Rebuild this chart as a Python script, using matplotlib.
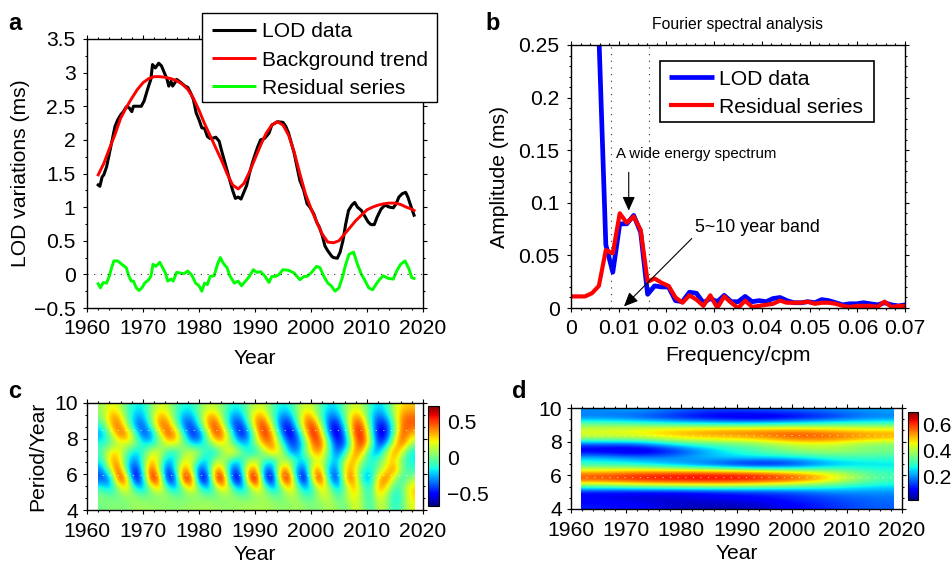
import numpy as np
import matplotlib
matplotlib.use('Agg')
import matplotlib.pyplot as plt
from matplotlib.lines import Line2D
from matplotlib.patches import Rectangle
from matplotlib.ticker import MultipleLocator

plt.rcParams['font.family'] = ['Liberation Sans', 'DejaVu Sans']
plt.rcParams['axes.unicode_minus'] = True

W, H = 952, 562

# panel a
lod_year = [1962, 1962.3, 1962.7, 1963, 1963.5, 1964, 1964.5, 1965, 1965.5, 1966, 1966.5, 1967, 1967.5, 1968, 1968.3, 1969, 1969.7, 1970.2, 1970.7, 1971, 1971.4, 1971.7, 1972.2, 1972.8, 1973.3, 1973.8, 1974.3, 1974.6, 1975, 1975.3, 1975.7, 1976, 1976.8, 1977.5, 1978, 1978.5, 1979, 1979.5, 1980, 1980.5, 1981, 1981.5, 1982, 1982.7, 1983, 1983.6, 1984, 1984.5, 1985, 1985.5, 1986, 1986.5, 1987, 1987.5, 1988, 1988.5, 1989, 1989.5, 1990, 1990.5, 1991, 1991.7, 1992.5, 1993, 1994, 1995, 1995.5, 1996, 1996.5, 1997, 1997.5, 1998, 1998.7, 1999.3, 1999.8, 2000.5, 2001, 2001.5, 2002, 2002.5, 2003, 2003.7, 2004, 2004.7, 2005.2, 2005.7, 2006.2, 2006.7, 2007.3, 2007.8, 2008.3, 2009, 2009.5, 2010.2, 2010.7, 2011.3, 2011.8, 2012.5, 2013.2, 2014, 2014.7, 2015.2, 2015.7, 2016.3, 2016.9, 2017.3, 2017.9, 2018.4]
lod_val = [1.33, 1.31, 1.45, 1.48, 1.6, 1.8, 2.0, 2.2, 2.3, 2.37, 2.42, 2.49, 2.48, 2.42, 2.5, 2.5, 2.5, 2.58, 2.72, 2.8, 2.9, 3.12, 3.07, 3.14, 3.1, 3.0, 2.9, 2.8, 2.87, 2.8, 2.85, 2.9, 2.85, 2.8, 2.78, 2.7, 2.6, 2.4, 2.3, 2.18, 2.17, 2.05, 2.02, 2.03, 2.04, 1.98, 1.85, 1.7, 1.55, 1.4, 1.25, 1.13, 1.15, 1.12, 1.22, 1.32, 1.5, 1.65, 1.78, 1.9, 2.0, 2.02, 2.1, 2.22, 2.27, 2.26, 2.2, 2.1, 1.95, 1.8, 1.6, 1.4, 1.25, 1.05, 1.0, 0.9, 0.78, 0.7, 0.58, 0.42, 0.35, 0.27, 0.25, 0.24, 0.33, 0.5, 0.75, 0.95, 1.03, 1.07, 1.0, 0.95, 0.88, 0.78, 0.74, 0.74, 0.85, 0.97, 1.03, 1.0, 0.99, 1.05, 1.15, 1.2, 1.22, 1.15, 1.0, 0.88]
trend_year = [1962, 1963, 1964, 1965, 1966, 1967, 1968, 1969, 1970, 1971, 1972, 1973, 1974, 1975, 1976, 1977, 1978, 1979, 1980, 1981, 1982, 1983, 1984, 1985, 1986, 1987, 1988, 1989, 1990, 1991, 1992, 1993, 1994, 1995, 1996, 1997, 1998, 1999, 2000, 2001, 2002, 2003, 2004, 2005, 2006, 2007, 2008, 2009, 2010, 2011, 2012, 2013, 2014, 2015, 2016, 2017, 2018, 2018.4]
trend_val = [1.48, 1.65, 1.87, 2.08, 2.32, 2.48, 2.62, 2.75, 2.85, 2.91, 2.94, 2.94, 2.93, 2.91, 2.88, 2.83, 2.75, 2.62, 2.44, 2.24, 2.06, 1.88, 1.7, 1.5, 1.33, 1.27, 1.35, 1.52, 1.72, 1.92, 2.1, 2.22, 2.27, 2.22, 2.07, 1.82, 1.5, 1.2, 0.98, 0.78, 0.6, 0.48, 0.47, 0.5, 0.6, 0.7, 0.8, 0.88, 0.96, 1.0, 1.03, 1.05, 1.06, 1.06, 1.04, 1.0, 0.97, 0.95]
resid_year = [1962, 1962.4, 1962.9, 1963.5, 1964, 1964.4, 1964.8, 1965.5, 1966.2, 1967, 1967.5, 1967.9, 1968.3, 1968.8, 1969.3, 1969.8, 1970.3, 1971, 1971.4, 1971.8, 1972.3, 1973, 1973.5, 1974, 1974.4, 1975, 1975.4, 1976, 1976.7, 1977.3, 1978, 1978.7, 1979.4, 1980, 1980.5, 1981, 1981.5, 1982, 1982.7, 1983.3, 1983.8, 1984.3, 1985, 1985.5, 1986.3, 1987, 1987.6, 1988.3, 1989, 1989.7, 1990.3, 1991, 1991.8, 1992.5, 1993, 1993.7, 1994.3, 1995, 1996, 1997, 1998, 1998.8, 1999.3, 2000, 2001, 2001.6, 2002.3, 2003, 2003.6, 2004.3, 2005, 2005.7, 2006.2, 2006.8, 2007.6, 2008.3, 2009, 2009.7, 2010.3, 2011, 2011.6, 2012.2, 2012.9, 2013.8, 2014.7, 2015.3, 2016, 2016.8, 2017.5, 2018, 2018.4]
resid_val = [-0.14, -0.2, -0.12, -0.13, -0.02, 0.1, 0.2, 0.2, 0.15, 0.1, -0.03, -0.1, -0.1, -0.2, -0.24, -0.2, -0.13, -0.08, -0.03, 0.15, 0.12, 0.18, 0.1, 0.02, -0.1, -0.07, -0.1, 0.03, 0.02, 0.01, 0.05, -0.01, -0.13, -0.17, -0.25, -0.13, -0.15, -0.03, -0.02, 0.15, 0.25, 0.17, 0.1, -0.02, -0.13, -0.1, -0.17, -0.1, -0.03, 0.07, 0.03, 0.04, -0.03, -0.12, -0.03, -0.03, 0, 0.07, 0.06, 0.02, -0.08, -0.03, -0.03, 0.02, 0.12, 0.1, -0.03, -0.13, -0.17, -0.25, -0.2, -0.02, 0.15, 0.3, 0.33, 0.15, 0, -0.1, -0.2, -0.23, -0.15, -0.08, -0.02, -0.06, -0.07, 0.05, 0.15, 0.2, 0.08, -0.05, -0.06]

# panel b, one value per frequency bin
bin_width = 0.00146
spec_blue = [0.26, 0.06, 0.034, 0.08, 0.08, 0.088, 0.072, 0.013, 0.021, 0.02, 0.02, 0.007, 0.006, 0.015, 0.014, 0.005, 0.009, 0.006, 0.012, 0.006, 0.006, 0.011, 0.006, 0.007, 0.006, 0.009, 0.01, 0.007, 0.005, 0.005, 0.006, 0.005, 0.008, 0.007, 0.005, 0.003, 0.004, 0.004, 0.005, 0.004, 0.003, 0.005, 0.003, 0.002, 0.003, 0.007]
spec_red = [0.011, 0.011, 0.011, 0.014, 0.021, 0.055, 0.052, 0.09, 0.081, 0.087, 0.074, 0.025, 0.028, 0.024, 0.021, 0.01, 0.005, 0.012, 0.008, 0.002, 0.012, 0.0, 0.011, 0.005, 0.0, 0.007, 0.001, 0.002, 0.003, 0.004, 0.007, 0.005, 0.005, 0.005, 0.006, 0.004, 0.005, 0.005, 0.004, 0.002, 0.001, 0.002, 0.002, 0.002, 0.001, 0.006, 0.001, 0.002, 0.002, 0.004]
band_edges = [0.0083, 0.0164]

# panel c, rows run from period 9.75 down to 4.25, columns 1962.6 to 2017.8
wavelet = [
    [.08, .22, .18, -.05, -.15, -.18, .02, .18, .15, -.03, -.14, -.14, .02, .14, .12, 0, -.14, -.14, .03, .16, .14, -.05, -.16, -.15, .05, .18, .12, -.07, -.2, -.16, .06, .18, .12, -.1, -.22, -.12, .15, .28, .3],
    [.05, .35, .35, 0, -.25, -.28, .05, .35, .30, -.05, -.28, -.28, 0, .35, .35, -.02, -.30, -.30, .03, .38, .32, -.05, -.32, -.32, 0, .38, .30, -.1, -.35, -.32, .05, .38, .28, -.15, -.38, -.25, .12, .42, .45],
    [-.12, .30, .48, .15, -.30, -.42, -.07, .42, .45, .12, -.36, -.45, -.12, .37, .53, .15, -.36, -.5, -.12, .42, .55, .12, -.42, -.52, -.12, .42, .55, .10, -.47, -.52, -.07, .5, .5, -.07, -.52, -.46, 0, .47, .47],
    [-.3, .05, .43, .45, .02, -.42, -.36, .1, .5, .43, -.07, -.5, -.42, .08, .55, .4, -.1, -.53, -.38, .22, .6, .35, -.24, -.6, -.38, .2, .65, .32, -.36, -.62, -.24, .47, .6, .05, -.58, -.52, .05, .52, .3],
    [-.12, -.05, .12, .2, .1, -.15, -.2, -.02, .22, .25, .05, -.22, -.25, -.05, .22, .25, 0, -.25, -.22, .1, .4, .42, 0, -.4, -.42, -.05, .48, .5, -.1, -.52, -.35, .3, .6, .15, -.48, -.3, .25, .5, .1],
    [-.05, .25, .28, -.02, -.22, -.12, .18, .2, -.08, -.15, .05, .2, .08, -.15, -.18, .1, .32, .08, -.18, -.15, .1, .35, .2, -.25, -.35, .02, .35, .35, -.1, -.4, -.1, .4, .35, -.2, -.3, .1, .45, .15, -.2],
    [-.15, .35, .35, -.12, -.35, -.08, .35, .15, -.28, -.15, .22, .2, -.15, -.22, .12, .12, -.18, -.2, .1, .2, -.08, -.2, .1, .12, -.12, -.22, .12, .2, -.15, -.25, .2, .4, .05, -.15, -.05, .2, .3, -.05, -.15],
    [-.34, .12, .58, -.07, -.58, -.14, .58, .16, -.52, -.15, .46, .18, -.48, -.25, .45, .23, -.45, -.3, .38, .38, -.41, -.35, .41, .35, -.38, -.38, .38, .31, -.35, -.31, .35, .3, -.1, -.2, .05, .25, .45, 0, -.1],
    [-.42, -.35, .55, .45, -.62, -.34, .62, .51, -.55, -.45, .6, .6, -.55, -.55, .6, .6, -.51, -.62, .44, .78, -.42, -.65, .44, .66, -.26, -.66, .34, .62, -.28, -.51, .38, .45, -.2, -.3, .3, .5, .1, -.15, .1],
    [-.10, -.25, .06, .33, -.12, -.30, .07, .35, -.05, -.30, .03, .35, -.03, -.30, .03, .35, 0, -.32, -.08, .35, .08, -.30, -.05, .35, .06, -.30, -.10, .32, .08, -.28, .05, .38, .05, -.18, .40, .25, -.1, 0, .30],
    [.05, 0, 0, .05, .08, .02, 0, .03, .08, .02, 0, .03, .05, .02, 0, .05, .08, .02, 0, .05, .1, .02, -.02, .1, .1, -.08, -.02, .15, .15, -.08, .08, .28, .05, -.15, .25, .1, -.2, -.05, .28],
    [0, .05, .03, .03, .08, .08, .08, .06, .05, .05, .06, .08, .08, .1, .08, .06, .06, .08, .1, .1, .1, .08, .05, .05, .1, .05, .02, .05, .12, .05, -.02, .2, .1, -.12, .15, .1, -.15, 0, .2],
]

# panel d, rows run from period 9.8 down to 4.2, columns 1965.5 to 2015
power = [
    [.20, .22, .18, .15, .17, .18, .20, .22],
    [.18, .15, .10, .06, .03, .07, .12, .18],
    [.35, .33, .30, .28, .28, .30, .32, .32],
    [.45, .48, .52, .55, .56, .56, .52, .50],
    [.42, .42, .48, .50, .52, .60, .58, .52],
    [.15, .15, .28, .32, .35, .42, .42, .35],
    [.07, .03, .12, .25, .32, .38, .40, .36],
    [.25, .20, .22, .25, .25, .25, .30, .30],
    [.30, .28, .20, .12, .04, .10, .22, .25],
    [.50, .53, .54, .54, .52, .46, .40, .30],
    [.62, .67, .68, .69, .67, .62, .50, .32],
    [.38, .42, .44, .45, .42, .38, .32, .27],
    [.10, .09, .09, .11, .13, .15, .20, .20],
    [.09, .07, .07, .09, .10, .13, .15, .18],
    [.12, .10, .06, .05, .06, .10, .14, .17],
]

heat_extent = [1961.9, 2018.5, 4, 10]
year_ticks = [1960, 1970, 1980, 1990, 2000, 2010, 2020]
legend_a = ['LOD data', 'Background trend', 'Residual series']
legend_b = ['LOD data', 'Residual series']


def px_axes(left, top, right, bottom):
    return fig.add_axes([left / W, 1 - bottom / H, (right - left) / W, (bottom - top) / H])


def style_axes(ax, xpad=5.0, ypad=5.6, fs=15.2):
    ax.tick_params(which='both', direction='out', top=True, right=True, width=0.8, labelsize=fs)
    ax.tick_params(axis='x', pad=xpad)
    ax.tick_params(axis='y', pad=ypad)
    ax.tick_params(which='major', length=2.6)
    ax.tick_params(which='minor', length=1.5)
    for s in ax.spines.values():
        s.set_linewidth(1.0)


def px_text(x, y, s, **kw):
    fig.text(x / W, 1 - y / H, s, **kw)


def px_legend(box, x_line, x_text, rows, labels, colors, widths, fs, frame_lw):
    left, top, right, bottom = box
    fig.add_artist(Rectangle((left / W, 1 - bottom / H), (right - left) / W, (bottom - top) / H,
                             transform=fig.transFigure, facecolor='white', edgecolor='black', lw=frame_lw, zorder=5))
    for (y_line, y_base), label, color, lw in zip(rows, labels, colors, widths):
        fig.add_artist(Line2D([x_line[0] / W, x_line[1] / W], [1 - y_line / H, 1 - y_line / H],
                              transform=fig.transFigure, color=color, lw=lw, zorder=6, solid_capstyle='butt'))
        px_text(x_text, y_base, label, fontsize=fs, ha='left', va='baseline', zorder=6)


fig = plt.figure(figsize=(W / 100, H / 100), dpi=100)

# a
ax = px_axes(87, 39, 423, 308)
ax.plot(lod_year, lod_val, color='black', lw=2.2)
ax.plot(trend_year, trend_val, color='red', lw=2.1)
ax.plot(resid_year, resid_val, color='#00ff00', lw=2.1)
ax.axhline(0, color='#333333', lw=0.8, ls=(0, (1, 5)))
ax.set_xlim(1960, 2020)
ax.set_ylim(-0.5, 3.5)
ax.set_xticks(year_ticks)
ax.set_yticks(np.arange(-0.5, 3.6, 0.5))
ax.set_yticklabels(['\u22120.5', '0', '0.5', '1', '1.5', '2', '2.5', '3', '3.5'])
ax.xaxis.set_minor_locator(MultipleLocator(2))
ax.yaxis.set_minor_locator(MultipleLocator(0.25))
style_axes(ax)
ax.set_xlabel('Year', fontsize=15.2, labelpad=8)
ax.set_ylabel('LOD variations (ms)', fontsize=15.2, labelpad=3)
px_legend((202, 13, 437, 102), (212, 256), 262, [(29.5, 36.7), (57.5, 66), (85.5, 94)], legend_a,
          ['black', 'red', '#00ff00'], [2.2, 2.1, 2.1], 15.1, 1.0)

# b
ax = px_axes(571, 45, 905, 308)
freq_blue = bin_width * np.arange(4, 4 + len(spec_blue))
freq_red = bin_width * np.arange(len(spec_red))
ax.plot(freq_blue, spec_blue, color='#0000ff', lw=3.4)
ax.plot(freq_red, spec_red, color='red', lw=3.0)
for f in band_edges:
    ax.axvline(f, color='#333333', lw=0.8, ls=(0, (1, 5)))
ax.set_xlim(0, 0.07)
ax.set_ylim(0, 0.25)
ax.set_xticks(np.arange(0, 0.071, 0.01))
ax.set_xticklabels(['0', '0.01', '0.02', '0.03', '0.04', '0.05', '0.06', '0.07'])
ax.set_yticks(np.arange(0, 0.26, 0.05))
ax.set_yticklabels(['0', '0.05', '0.1', '0.15', '0.2', '0.25'])
ax.xaxis.set_minor_locator(MultipleLocator(0.002))
ax.yaxis.set_minor_locator(MultipleLocator(0.01))
style_axes(ax)
ax.set_xlabel('Frequency/cpm', fontsize=15.2, labelpad=6)
ax.set_ylabel('Amplitude (ms)', fontsize=15.2, labelpad=7)
px_legend((660, 61, 874, 122), (669, 714), 719, [(77, 85), (105, 113)], legend_b,
          ['#0000ff', 'red'], [3.4, 3.0], 15.2, 1.2)
head = '-|>,head_width=0.38,head_length=0.85'
ax.annotate('', xy=(0.0121, 0.0925), xytext=(0.0121, 0.129),
            arrowprops=dict(arrowstyle=head, color='black', lw=0.8, shrinkA=0, shrinkB=0))
ax.annotate('', xy=(0.0111, 0.0015), xytext=(0.0253, 0.066),
            arrowprops=dict(arrowstyle=head, color='black', lw=0.8, shrinkA=0, shrinkB=0))
px_text(738, 25, 'Fourier spectral analysis', fontsize=11.3, ha='center', va='center')
px_text(616, 154, 'A wide energy spectrum', fontsize=10.8, ha='left', va='center')
px_text(695, 228, '5~10 year band', fontsize=12.9, ha='left', va='center')

# c
ax = px_axes(87, 403, 423, 510)
im = ax.imshow(wavelet, cmap='jet', vmin=-0.67, vmax=0.72, extent=heat_extent, aspect='auto', interpolation='bicubic')
ax.axhline(8.48, color='white', lw=0.7, alpha=0.7, ls=(0, (1.2, 6.6)))
ax.axhline(5.95, color='white', lw=0.7, alpha=0.7, ls=(0, (1.2, 6.6)))
ax.set_xlim(1960, 2020)
ax.set_ylim(4, 10)
ax.set_xticks(year_ticks)
ax.set_yticks([4, 6, 8, 10])
ax.xaxis.set_minor_locator(MultipleLocator(2))
ax.yaxis.set_minor_locator(MultipleLocator(2 / 3))
style_axes(ax, xpad=5.8, ypad=3.9)
ax.set_xlabel('Year', fontsize=15.2, labelpad=3)
ax.set_ylabel('Period/Year', fontsize=15.2, labelpad=5)
cax = px_axes(428, 406, 439, 506)
cb = fig.colorbar(im, cax=cax, ticks=[-0.5, 0, 0.5])
cb.ax.set_yticklabels(['\u22120.5', '0', '0.5'])
cb.ax.tick_params(length=0, labelsize=15.2, pad=5.5)

# d
ax = px_axes(571, 408, 902, 509)
im = ax.imshow(power, cmap='jet', vmin=0.02, vmax=0.70, extent=heat_extent, aspect='auto', interpolation='bicubic')
ax.axhline(8.4, color='white', lw=0.7, alpha=0.7, ls=(0, (1.2, 6.6)))
ax.axhline(5.92, color='white', lw=0.7, alpha=0.7, ls=(0, (1.2, 6.6)))
ax.set_xlim(1960, 2020)
ax.set_ylim(4, 10)
ax.set_xticks(year_ticks)
ax.set_yticks([4, 6, 8, 10])
ax.xaxis.set_minor_locator(MultipleLocator(2))
ax.yaxis.set_minor_locator(MultipleLocator(2 / 3))
style_axes(ax, xpad=5.8, ypad=3.9)
ax.set_xlabel('Year', fontsize=15.2, labelpad=3)
cax = px_axes(908, 412, 918, 500)
cb = fig.colorbar(im, cax=cax, ticks=[0.2, 0.4, 0.6])
cb.ax.tick_params(length=0, labelsize=15.2, pad=3)

# panel letters
for x, y, s in [(8, 24, 'a'), (485, 24, 'b'), (8, 392, 'c'), (512, 392, 'd')]:
    px_text(x, y, s, fontsize=17, fontweight='bold', ha='left', va='center')

fig.savefig('out.png', dpi=100)
